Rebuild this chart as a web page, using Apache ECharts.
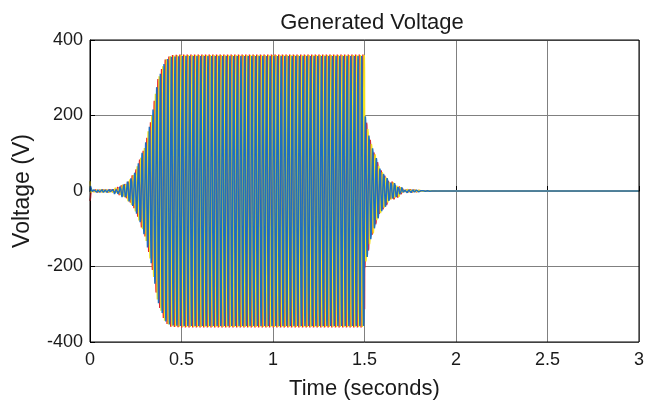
<!DOCTYPE html>
<html><head><meta charset="utf-8">
<script src="https://cdn.jsdelivr.net/npm/echarts@6/dist/echarts.min.js"></script>
<style>html,body{margin:0;padding:0;background:#fff}#c{width:647px;height:405px}</style>
</head><body><div id="c"></div>
<script>
// Envelope (peak amplitude, V)
const envTime = [0, 0.004, 0.01, 0.05, 0.1, 0.15, 0.2, 0.25, 0.3, 0.34, 0.37, 0.41, 0.44, 0.5, 1.5, 1.5005, 1.53, 1.58, 1.64, 1.73, 1.85, 2.0, 3.0];
const envAmp  = [30, 12, 4, 3, 5, 10, 22, 55, 121, 205, 295, 348, 360, 362, 362, 210, 140, 65, 28, 5, 0.5, 0, 0];
const freqHz = 50;
const phaseNames = ['Phase B', 'Phase C', 'Phase A'];
const phaseDeg = [-120, 120, 0];
const phaseColors = ['#e3262c', '#f0e020', '#1f6fbf'];
const xTicks = [0, 0.5, 1, 1.5, 2, 2.5, 3];
const yTicks = [-400, -200, 0, 200, 400];

function env(t){
  for (let i=1;i<envTime.length;i++){
    if (t<=envTime[i]){
      const a=envTime[i-1], b=envTime[i];
      const f=(t-a)/(b-a);
      return envAmp[i-1]+(envAmp[i]-envAmp[i-1])*f;
    }
  }
  return envAmp[envAmp.length-1];
}
const dt = 0.0005;
const series = phaseDeg.map((ph,k)=>{
  const d=[];
  for (let i=0;i<=6000;i++){
    const t=i*dt;
    d.push([t, env(t)*Math.sin(2*Math.PI*freqHz*t + ph*Math.PI/180)]);
  }
  return {name:phaseNames[k], type:'line', data:d, showSymbol:false, symbol:'none',
    lineStyle:{width:1.5, color:phaseColors[k]}, itemStyle:{color:phaseColors[k]}, animation:false, silent:true, sampling:null, z:2+k};
});

const chart = echarts.init(document.getElementById('c'), null, {renderer:'canvas'});
const font = 'Liberation Sans, Arial, sans-serif';
chart.setOption({
  animation:false,
  backgroundColor:'#fff',
  title:{text:'Generated Voltage', left:367, top:7, textAlign:'center',
    textStyle:{fontFamily:font, fontSize:22, fontWeight:'normal', color:'#1a1a1a'}},
  grid:{left:90, right:7, top:40, bottom:59, show:true, borderColor:'#000', borderWidth:1, z:10},
  xAxis:{type:'value', min:0, max:3, interval:0.5,
    name:'Time (seconds)', nameLocation:'middle', nameGap:36,
    nameTextStyle:{fontFamily:font, fontSize:22, color:'#1a1a1a'},
    axisLine:{show:true, lineStyle:{color:'#000'}},
    axisTick:{show:true, inside:true, length:5, lineStyle:{color:'#000'}},
    axisLabel:{fontFamily:font, fontSize:18, color:'#1a1a1a', margin:9,
      formatter:v=>String(v)},
    splitLine:{show:true, lineStyle:{color:'#808080', width:1}}},
  yAxis:{type:'value', min:-400, max:400, interval:200,
    name:'Voltage (V)', nameLocation:'middle', nameGap:56,
    nameTextStyle:{fontFamily:font, fontSize:23, color:'#1a1a1a'},
    axisLine:{show:true, lineStyle:{color:'#000'}},
    axisTick:{show:true, inside:true, length:5, lineStyle:{color:'#000'}},
    axisLabel:{fontFamily:font, fontSize:18, color:'#1a1a1a', margin:7},
    splitLine:{show:true, lineStyle:{color:'#808080', width:1}}},
  series: series
});
</script></body></html>
